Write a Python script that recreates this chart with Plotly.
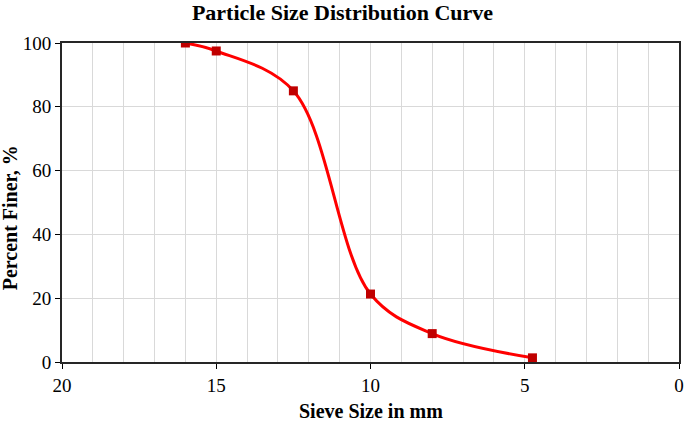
import plotly.graph_objects as go

sieve_mm = [16, 15, 12.5, 10, 8, 4.75]
percent_finer = [100, 97.5, 85, 21.3, 8.9, 1.3]
x_ticks = [20, 15, 10, 5, 0]
y_ticks = [0, 20, 40, 60, 80, 100]

serif = "Liberation Serif, Times New Roman, serif"

fig = go.Figure()
fig.add_trace(go.Scatter(
    x=sieve_mm, y=percent_finer, mode="lines+markers",
    line=dict(color="#ff0000", width=3, shape="spline", smoothing=1),
    marker=dict(symbol="square", size=9, color="#c00000"),
    showlegend=False,
))

fig.update_layout(
    width=685, height=422,
    margin=dict(l=62, r=6, t=43, b=60, autoexpand=False),
    paper_bgcolor="white", plot_bgcolor="white",
    title=dict(text="<b>Particle Size Distribution Curve</b>", x=0.5, xanchor="center",
               y=0.988, yanchor="top", font=dict(family=serif, size=22, color="black")),
    font=dict(family=serif, color="black"),
    annotations=[
        dict(text="<b>Sieve Size in mm</b>", xref="paper", yref="paper", x=0.5, y=-0.155,
             xanchor="center", yanchor="middle", showarrow=False,
             font=dict(family=serif, size=20, color="black")),
        dict(text="<b>Percent Finer, %</b>", xref="paper", yref="paper", x=-0.084, y=0.451,
             xanchor="center", yanchor="middle", showarrow=False, textangle=-90,
             font=dict(family=serif, size=20, color="black")),
    ],
)
fig.update_xaxes(
    range=[20, 0], tickvals=x_ticks, ticks="outside", ticklen=5, tickcolor="black",
    tickfont=dict(family=serif, size=19, color="black"),
    showgrid=True, gridcolor="#d9d9d9", gridwidth=1,
    minor=dict(dtick=1, showgrid=True, gridcolor="#d9d9d9", gridwidth=1, ticks=""),
    showline=True, linecolor="#262626", linewidth=2, mirror=True, zeroline=False,
    automargin=False,
)
fig.update_yaxes(
    range=[0, 100], tickvals=y_ticks, ticks="outside", ticklen=5, tickcolor="black",
    tickfont=dict(family=serif, size=19, color="black"),
    showgrid=True, gridcolor="#d9d9d9", gridwidth=1,
    showline=True, linecolor="#262626", linewidth=2, mirror=True, zeroline=False,
    automargin=False,
)

fig.write_html("out.html", config={"displayModeBar": False},
               post_script="document.body.style.margin='0';")
